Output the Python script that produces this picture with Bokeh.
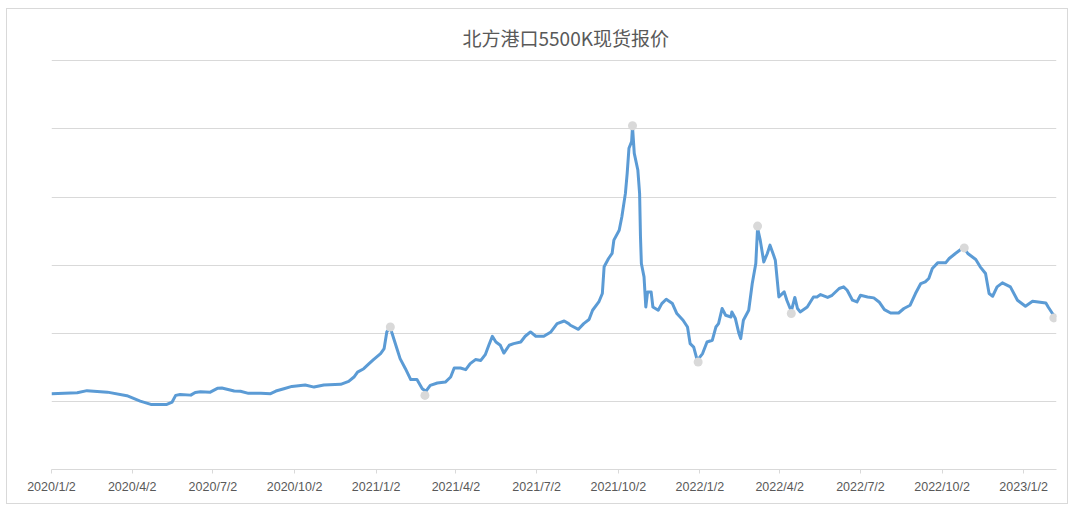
import pandas as pd
from bokeh.plotting import figure
from bokeh.models import Range1d, FixedTicker, ColumnDataSource
from bokeh.embed import file_html
from bokeh.resources import INLINE

title_text = "北方港口5500K现货报价"

dates = [
    "2020-01-02", "2020-01-31", "2020-02-11", "2020-03-05", "2020-03-27", "2020-04-11",
    "2020-04-23", "2020-05-11", "2020-05-17", "2020-05-21", "2020-05-26", "2020-06-07",
    "2020-06-12", "2020-06-18", "2020-06-29", "2020-07-07", "2020-07-12", "2020-07-26",
    "2020-08-02", "2020-08-11", "2020-08-25", "2020-09-05", "2020-09-11", "2020-09-20",
    "2020-09-29", "2020-10-14", "2020-10-24", "2020-11-04", "2020-11-23", "2020-12-02",
    "2020-12-08", "2020-12-12", "2020-12-19", "2020-12-25", "2020-12-30",
    "2021-01-07", "2021-01-11", "2021-01-14", "2021-01-18", "2021-01-20", "2021-01-26",
    "2021-01-29", "2021-02-04", "2021-02-10", "2021-02-17", "2021-02-23", "2021-02-27",
    "2021-03-04", "2021-03-12", "2021-03-21", "2021-03-27", "2021-03-31", "2021-04-07",
    "2021-04-13", "2021-04-18", "2021-04-24", "2021-04-30", "2021-05-05", "2021-05-09",
    "2021-05-13", "2021-05-17", "2021-05-22", "2021-05-26", "2021-06-01", "2021-06-06",
    "2021-06-14", "2021-06-19", "2021-06-25", "2021-07-01", "2021-07-10", "2021-07-18",
    "2021-07-25", "2021-08-02", "2021-08-07", "2021-08-09", "2021-08-18", "2021-08-24",
    "2021-08-30", "2021-09-03", "2021-09-10", "2021-09-14", "2021-09-16", "2021-09-21",
    "2021-09-25", "2021-09-27", "2021-10-03", "2021-10-06", "2021-10-10", "2021-10-12",
    "2021-10-14", "2021-10-17", "2021-10-18", "2021-10-20", "2021-10-24", "2021-10-26",
    "2021-10-27", "2021-10-28", "2021-10-31", "2021-11-02", "2021-11-04", "2021-11-08",
    "2021-11-10", "2021-11-16", "2021-11-20", "2021-11-25", "2021-12-02", "2021-12-07",
    "2021-12-14", "2021-12-19", "2021-12-22", "2021-12-26", "2021-12-30",
    "2022-01-05", "2022-01-10", "2022-01-16", "2022-01-20", "2022-01-23", "2022-01-27",
    "2022-01-31", "2022-02-06", "2022-02-07", "2022-02-11", "2022-02-15", "2022-02-17",
    "2022-02-20", "2022-02-26", "2022-03-02", "2022-03-06", "2022-03-08", "2022-03-11",
    "2022-03-15", "2022-03-19", "2022-03-22", "2022-03-26", "2022-03-28", "2022-04-01",
    "2022-04-07", "2022-04-10", "2022-04-15", "2022-04-19", "2022-04-22", "2022-04-25",
    "2022-05-03", "2022-05-10", "2022-05-14", "2022-05-18", "2022-05-26", "2022-05-31",
    "2022-06-08", "2022-06-13", "2022-06-17", "2022-06-23", "2022-06-28", "2022-07-02",
    "2022-07-10", "2022-07-17", "2022-07-23", "2022-07-29", "2022-08-05", "2022-08-14",
    "2022-08-20", "2022-08-27", "2022-09-02", "2022-09-08", "2022-09-13", "2022-09-17",
    "2022-09-21", "2022-09-27", "2022-10-06", "2022-10-10", "2022-10-17", "2022-10-23",
    "2022-10-27", "2022-10-31", "2022-11-09", "2022-11-14", "2022-11-20", "2022-11-24",
    "2022-11-28", "2022-12-03", "2022-12-09", "2022-12-18", "2022-12-26",
    "2023-01-04", "2023-01-12", "2023-01-27", "2023-01-30", "2023-02-04", "2023-02-07",
]

prices = [
    557, 564, 579, 568, 542, 502,
    478, 478, 495, 544, 551, 546,
    566, 571, 568, 596, 598, 576,
    574, 559, 559, 557, 576, 593,
    610, 620, 605, 620, 625, 647,
    679, 715, 740, 777, 807,
    851, 888, 1010, 1044, 998, 875,
    814, 740, 660, 660, 593, 574,
    618, 635, 642, 679, 745, 745,
    733, 777, 807, 801, 843, 912,
    978, 936, 912, 855, 912, 924,
    936, 978, 1010, 978, 978, 1010,
    1071, 1090, 1071, 1059, 1029, 1071,
    1101, 1169, 1230, 1292, 1488, 1549,
    1586, 1684, 1757, 1855, 2027, 2174,
    2358, 2407, 2517, 2321, 2199, 2027,
    1708, 1512, 1414, 1193, 1304, 1304,
    1193, 1169, 1218, 1250, 1218, 1145,
    1096, 1046, 924, 899, 801,
    851, 936, 949, 1046, 1071, 1182,
    1132, 1120, 1157, 1108, 998, 961,
    1096, 1169, 1365, 1512, 1772, 1684,
    1524, 1586, 1647, 1574, 1537, 1267,
    1304, 1243, 1162, 1263, 1182, 1157,
    1193, 1267, 1267, 1284, 1263, 1279,
    1329, 1341, 1316, 1243, 1230, 1279,
    1267, 1260, 1230, 1174, 1149, 1149,
    1182, 1206, 1292, 1365, 1377, 1402,
    1476, 1517, 1517, 1549, 1586, 1615,
    1625, 1586, 1542, 1488, 1439, 1292,
    1272, 1341, 1370, 1341, 1243,
    1199, 1235, 1223, 1189, 1140, 1118,
]

mark_dates = ["2021-01-18", "2021-02-26", "2021-10-18", "2021-12-31",
              "2022-03-08", "2022-04-15", "2022-10-27", "2023-02-05"]
mark_prices = [1046, 544, 2524, 789, 1787, 1145, 1627, 1113]

tick_labels = ["2020/1/2", "2020/4/2", "2020/7/2", "2020/10/2", "2021/1/2", "2021/4/2",
               "2021/7/2", "2021/10/2", "2022/1/2", "2022/4/2", "2022/7/2", "2022/10/2",
               "2023/1/2"]
y_ticks = [0, 500, 1000, 1500, 2000, 2500, 3000]
x_start = "2020-01-02"
x_end = "2023-02-08"


def to_ms(s):
    return pd.Timestamp(s).value / 1e6


src = ColumnDataSource(dict(x=[to_ms(d) for d in dates], y=prices))
msrc = ColumnDataSource(dict(x=[to_ms(d) for d in mark_dates], y=mark_prices))
tick_ms = [to_ms(t) for t in tick_labels]

p = figure(width=1062, height=496, x_axis_type="datetime",
           x_range=Range1d(to_ms(x_start), to_ms(x_end)),
           y_range=Range1d(y_ticks[0], y_ticks[-1] + 10),
           output_backend="svg", toolbar_location=None,
           min_border_left=44, min_border_right=13,
           min_border_top=50, min_border_bottom=36)

p.styles = {"border": "1px solid #d9d9d9", "margin-left": "6px", "margin-top": "8px"}
p.outline_line_color = None
p.background_fill_color = "white"
p.border_fill_color = "white"

p.title.text = title_text
p.title.align = "left"
p.title.offset = 411
p.title.standoff = 17
p.title.text_font = "Noto Sans CJK SC"
p.title.text_font_size = "19px"
p.title.text_font_style = "normal"
p.title.text_color = "#595959"

p.xgrid.visible = False
p.ygrid.ticker = FixedTicker(ticks=y_ticks)
p.ygrid.grid_line_color = "#d9d9d9"
p.ygrid.grid_line_width = 1
p.yaxis.visible = False

xa = p.xaxis[0]
xa.ticker = FixedTicker(ticks=tick_ms)
xa.major_label_overrides = {t: lab for t, lab in zip(tick_ms, tick_labels)}
xa.axis_line_color = "#d9d9d9"
xa.major_tick_line_color = "#d9d9d9"
xa.major_tick_out = 4
xa.major_tick_in = 0
xa.minor_tick_out = 0
xa.minor_tick_in = 0
xa.major_label_text_font = "Liberation Sans"
xa.major_label_text_font_size = "12.5px"
xa.major_label_text_color = "#595959"
xa.major_label_standoff = 6

p.line("x", "y", source=src, line_color="#5b9bd5", line_width=3, line_join="round")
p.scatter("x", "y", source=msrc, size=9, fill_color="#d9d9d9", line_color=None)

open("out.html", "w").write(file_html(p, INLINE))
